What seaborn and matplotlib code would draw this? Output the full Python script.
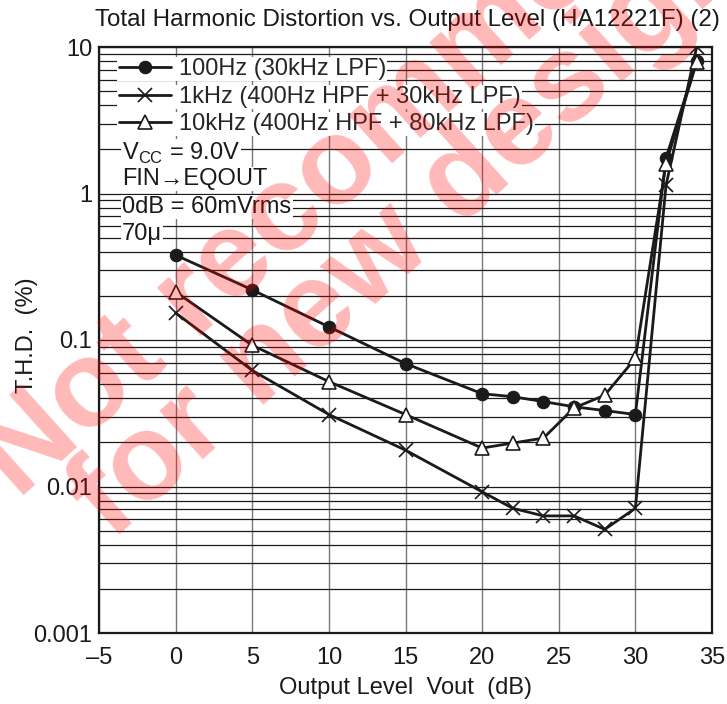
import numpy as np
import pandas as pd
import matplotlib
matplotlib.use("Agg")
import matplotlib.pyplot as plt
import matplotlib.ticker as mticker
import seaborn as sns

# output level (dB)
vout = [0, 5, 10, 15, 20, 22, 24, 26, 28, 30, 32, 34]

# THD (%)
thd_100hz = [0.38, 0.22, 0.123, 0.069, 0.043, 0.041, 0.038, 0.035, 0.033, 0.031, 1.75, 8.0]
thd_1khz = [0.153, 0.062, 0.031, 0.0177, 0.0092, 0.0071, 0.0063, 0.0063, 0.0051, 0.0071, 1.14, 10.0]
thd_10khz = [0.213, 0.092, 0.052, 0.031, 0.0183, 0.0198, 0.0214, 0.0344, 0.042, 0.075, 1.6, 7.9]

labels = ["100Hz (30kHz LPF)", "1kHz (400Hz HPF + 30kHz LPF)", "10kHz (400Hz HPF + 80kHz LPF)"]
notes = ["V$_\\mathregular{CC}$ = 9.0V", "FIN\u2192EQOUT", "0dB = 60mVrms", "70\u03bc"]

df = pd.DataFrame({
    "Vout": vout * 3,
    "THD": thd_100hz + thd_1khz + thd_10khz,
    "Series": [labels[0]] * len(vout) + [labels[1]] * len(vout) + [labels[2]] * len(vout),
})

sns.set_style("white")
plt.rcParams["font.family"] = ["Liberation Sans", "DejaVu Sans"]
plt.rcParams["mathtext.fontset"] = "custom"
plt.rcParams["mathtext.rm"] = "Liberation Sans"

fig = plt.figure(figsize=(7.27, 7.04), dpi=100)
ax = fig.add_axes([99 / 727, 1 - 633 / 704, 613 / 727, 586 / 704])

ink = "#1a1a1a"
styles = {
    labels[0]: dict(marker="o", markersize=9, markerfacecolor=ink, markeredgecolor=ink),
    labels[1]: dict(marker="x", markersize=10, markeredgewidth=1.2, markeredgecolor=ink),
    labels[2]: dict(marker="^", markersize=10, markerfacecolor="white", markeredgecolor=ink, markeredgewidth=1.2),
}
for lab in labels:
    sns.lineplot(data=df[df["Series"] == lab], x="Vout", y="THD", ax=ax, color=ink,
                 linewidth=2.0, label=lab, legend=False, zorder=5, **styles[lab])

ax.set_yscale("log")
ax.set_xlim(-5, 35)
ax.set_ylim(0.001, 10)
ax.xaxis.set_major_locator(mticker.MultipleLocator(5))
ax.xaxis.set_major_formatter(mticker.FuncFormatter(lambda v, p: f"{v:g}".replace("-", "\u2013")))
ax.yaxis.set_major_locator(mticker.FixedLocator([0.001, 0.01, 0.1, 1, 10]))
ax.yaxis.set_major_formatter(mticker.FixedFormatter(["0.001", "0.01", "0.1", "1", "10"]))
ax.yaxis.set_minor_locator(mticker.LogLocator(base=10, subs=np.arange(2, 10)))
ax.yaxis.set_minor_formatter(mticker.NullFormatter())
ax.tick_params(axis="both", which="both", length=0, labelsize=17, colors=ink)
ax.tick_params(axis="x", pad=10)
ax.tick_params(axis="y", pad=5)

ax.grid(axis="x", which="major", color="#777777", linewidth=1.0)
ax.grid(axis="y", which="both", color=ink, linewidth=0.9)
for s in ax.spines.values():
    s.set_color(ink)
    s.set_linewidth(1.6)

ax.set_xlabel("Output Level  Vout  (dB)", fontsize=17, color=ink, labelpad=6)
ax.set_ylabel("T.H.D.  (%)", fontsize=17, color=ink)
ax.yaxis.set_label_coords((38 - 99) / 613, (633 - 335) / 586)
fig.text(720 / 727, 1 - 20 / 704, "Total Harmonic Distortion vs. Output Level (HA12221F) (2)",
         ha="right", va="center", fontsize=17.4, color=ink)

# legend rows, each with its own white backing
handles = ax.get_lines()
row_y = [69, 97, 124]
for h, lab, py in zip(handles, labels, row_y):
    leg = ax.legend([h], [lab], loc="center left", bbox_to_anchor=(0.03, (633 - py) / 586),
                    frameon=True, fontsize=17, handlelength=2.2, handletextpad=0.35,
                    borderpad=0.05, borderaxespad=0, fancybox=False)
    leg.get_frame().set_facecolor("white")
    leg.get_frame().set_edgecolor("none")
    leg.get_frame().set_alpha(1)
    leg.set_zorder(6)
    ax.add_artist(leg)

note_y = [153, 179, 207, 234]
for txt, py in zip(notes, note_y):
    ax.text((122 - 99) / 613, (633 - py) / 586, txt, transform=ax.transAxes, fontsize=17,
            ha="left", va="center", color=ink, zorder=6,
            bbox=dict(facecolor="white", edgecolor="none", pad=1))

# watermark
wm = dict(fontsize=88, fontweight="bold", color="red", alpha=0.28, rotation=42,
          rotation_mode="anchor", ha="left", va="baseline", zorder=20)
fig.text(18 / 727, 1 - 500 / 704, "Not recommended", **wm)
fig.text(112 / 727, 1 - 542 / 704, "for new design", **wm)

fig.savefig("out.png", dpi=100)
